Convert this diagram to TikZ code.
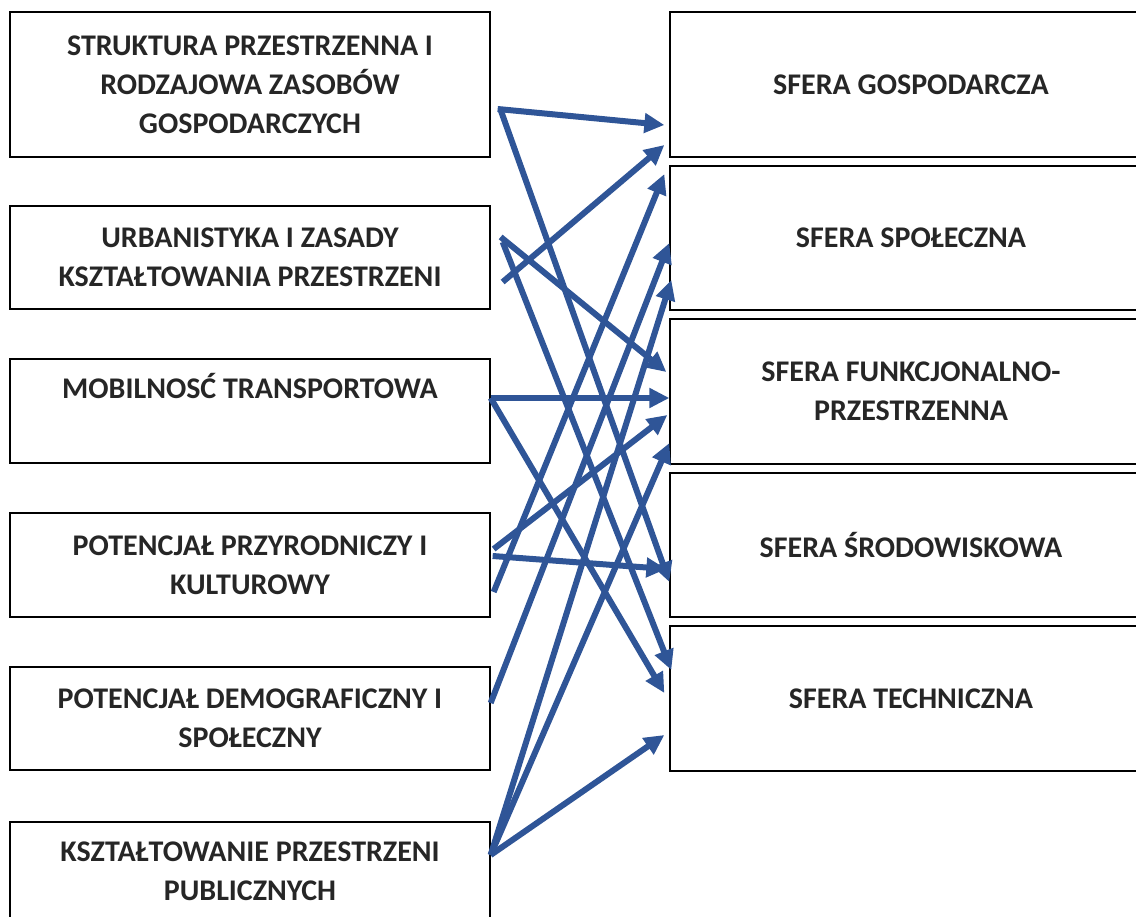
\documentclass[tikz,border=0pt]{standalone}
\usepackage{fontspec}
\setmainfont{Carlito}
\usepackage{tikz}
\usepackage{xcolor}
\usetikzlibrary{arrows.meta}
\definecolor{arrowblue}{RGB}{47,85,151}
\definecolor{textgray}{RGB}{38,38,38}
\tikzset{
    factor-box/.style = {draw=black, line width=1.3pt, rectangle, minimum width=480pt, inner sep=0pt, align=center, text=textgray, font=\fontsize{30}{39}\selectfont\bfseries},
    sphere-box/.style = {factor-box, minimum width=482pt, minimum height=145pt},
    link-arrow/.style = {draw=arrowblue, line width=6pt, -{Triangle[length=20pt, width=19pt]}},
}

\begin{document}
\begin{tikzpicture}[x=1pt, y=-1pt]
\clip (0,0) rectangle (1136,917);
\node [factor-box, minimum height=145pt] (b1) at (250,84.5) {STRUKTURA PRZESTRZENNA I\\RODZAJOWA ZASOBÓW\\GOSPODARCZYCH};
\node [factor-box, minimum height=103pt] (b2) at (250,257.5) {URBANISTYKA I ZASADY\\KSZTAŁTOWANIA PRZESTRZENI};
\node [factor-box, minimum height=104pt] (b3) at (250,411) {MOBILNOSĆ TRANSPORTOWA\\\strut};
\node [factor-box, minimum height=104pt] (b4) at (250,565) {POTENCJAŁ PRZYRODNICZY I\\KULTUROWY};
\node [factor-box, minimum height=103pt] (b5) at (250,718.5) {POTENCJAŁ DEMOGRAFICZNY I\\SPOŁECZNY};
\node [factor-box, minimum height=99pt] (b6) at (250,871.5) {KSZTAŁTOWANIE PRZESTRZENI\\PUBLICZNYCH};

\node [sphere-box] (r1) at (911,84.5) {SFERA GOSPODARCZA};
\node [sphere-box, minimum height=144pt] (r2) at (911,238) {SFERA SPOŁECZNA};
\node [sphere-box] (r3) at (911,391.5) {SFERA FUNKCJONALNO-\\PRZESTRZENNA};
\node [sphere-box, minimum height=144pt] (r4) at (911,545) {SFERA ŚRODOWISKOWA};
\node [sphere-box] (r5) at (911,698.5) {SFERA TECHNICZNA};

\draw [link-arrow] ([shift={(7,24.5)}]b1.east) -- ([shift={(-5,40.5)}]r1.west);
\draw [link-arrow] ([shift={(10,25.5)}]b1.east) -- ([shift={(0,37)}]r4.west);
\draw [link-arrow] ([shift={(10,-20.5)}]b2.east) -- ([shift={(-3,-19.5)}]r3.west);
\draw [link-arrow] ([shift={(12,-15.5)}]b2.east) -- ([shift={(2,-28.5)}]r5.west);
\draw [link-arrow] ([shift={(12,24.5)}]b2.east) -- ([shift={(-5,60.5)}]r1.west);
\draw [link-arrow] ([shift={(0,-13)}]b3.east) -- ([shift={(0,6.5)}]r3.west);
\draw [link-arrow] ([shift={(0,-13)}]b3.east) -- ([shift={(-5,-5.5)}]r5.west);
\draw [link-arrow] ([shift={(3,-16)}]b4.east) -- ([shift={(-2,23.5)}]r3.west);
\draw [link-arrow] ([shift={(2,-9)}]b4.east) -- ([shift={(-3,24)}]r4.west);
\draw [link-arrow] ([shift={(3,27)}]b4.east) -- ([shift={(-5,-64)}]r2.west);
\draw [link-arrow] ([shift={(0,-15.5)}]b5.east) -- ([shift={(0,5)}]r2.west);
\draw [link-arrow] ([shift={(0,-16.5)}]b6.east) -- ([shift={(2,42)}]r2.west);
\draw [link-arrow] ([shift={(0,-16.5)}]b6.east) -- ([shift={(0,51.5)}]r3.west);
\draw [link-arrow] ([shift={(0,-16.5)}]b6.east) -- ([shift={(-5,36.5)}]r5.west);
\end{tikzpicture}
\end{document}
